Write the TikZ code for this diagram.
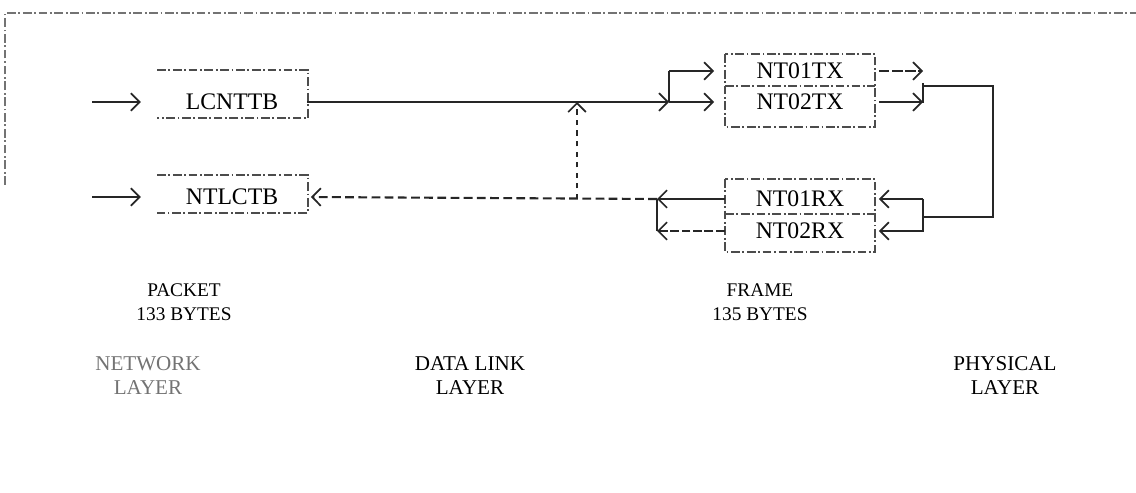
\documentclass[tikz,border=0pt]{standalone}
\usepackage{fontspec}
\setmainfont{Liberation Serif}
\usetikzlibrary{arrows.meta,calc}

\begin{document}
\begin{tikzpicture}[x=0.02cm, y=-0.02cm,
  wire/.style={line width=1.2pt, draw=black!85},
  feed/.style={wire, -{Straight Barb[length=5pt, width=10pt, line width=1pt]}},
  ret/.style={feed, dash pattern=on 5pt off 2.5pt},
  edge/.style={line width=0.6pt, draw=black!70, dash pattern=on 5pt off 1.5pt on 1pt off 1.5pt},
  buf/.style={minimum width=3cm, inner sep=0pt, font=\fontsize{13.5}{15}\selectfont},
  lbl/.style={align=center, inner sep=0pt, font=\fontsize{12}{13.66}\selectfont},
  size/.style={lbl, font=\fontsize{11}{13.66}\selectfont},
]
\useasboundingbox (0,0) rectangle (1136,493);

% faint outer frame (cut off at top right)
\draw[edge, draw=black!55] (5,185) -- (5,13) -- (1136,13);

% --- network layer buffers ---
\node[buf] (lcn) at (232,102) {LCNTTB};
\node[buf] (ntl) at (232,197) {NTLCTB};
\draw[edge] (157,70) -- (308,70) -- (308,118) -- (157,118);
\draw[edge] (157,175) -- (308,175) -- (308,213) -- (157,213);

% --- data link buffers ---
\node[buf] (tx1) at (800,71) {NT01TX};
\node[buf] (tx2) at (800,102) {NT02TX};
\node[buf] (rx1) at (800,199) {NT01RX};
\node[buf] (rx2) at (800,231) {NT02RX};
\draw[edge] (725,54) rectangle (875,127);
\draw[edge] (725,86) -- (875,86);
\draw[edge] (725,179) rectangle (875,252);
\draw[edge] (725,214) -- (875,214);

% junction points
\coordinate (txsplit) at (669,102);
\coordinate (rxsplit) at (657,199);
\coordinate (tap) at (577,199);
\coordinate (txbar) at (923,86);
\coordinate (rxbar) at (923,217);
\coordinate (in1) at (92,102);
\coordinate (in2) at (92,197);

% inputs from the left
\draw[feed, shorten >=9pt] (in1) -- (lcn.west);
\draw[feed, shorten >=9pt] (in2) -- (ntl.west);

% send path
\draw[feed] (lcn.east) -- (txsplit);
\draw[wire] (txsplit) -- (txsplit |- tx1.west);
\draw[feed, shorten >=6pt] (txsplit |- tx1.west) -- (tx1.west);
\draw[feed, shorten >=6pt] (txsplit) -- (tx2.west);
\draw[feed, dash pattern=on 6pt off 1.5pt, shorten <=2pt] (tx1.east) -- (tx1.east -| txbar);
\draw[feed, shorten <=2pt] (tx2.east) -- (tx2.east -| txbar);
\draw[wire] ($(txbar)+(0,-3)$) -- ($(txbar)+(0,17)$);

% physical loop back
\draw[wire, line width=0.9pt] (txbar) -- ++(70,0) |- (rxbar);
\draw[wire] (rxbar |- rx1.east) -- ($(rxbar |- rx2.east)+(0,1)$);

% receive path
\draw[feed, shorten >=2pt] (rxbar |- rx1.east) -- (rx1.east);
\draw[feed, shorten >=2pt] (rxbar |- rx2.east) -- (rx2.east);
\draw[feed] (rx1.west) -- (rxsplit);
\draw[feed, dash pattern=on 5pt off 1.5pt] (rx2.west) -- (rxsplit |- rx2.west);
\draw[wire] (rxsplit) -- (rxsplit |- rx2.west);
\draw[ret, shorten >=2pt] (rxsplit) -- (ntl.east);
\draw[ret, line width=0.7pt, dash pattern=on 3pt off 3pt] (tap) -- (tap |- lcn.east);

% --- unit sizes ---
\node[size] (packet) at (184,302) {PACKET\\133 BYTES};
\node[size] (frame) at (760,302) {FRAME\\135 BYTES};

% --- layer names ---
\node[lbl, text=black!55] (netlayer) at (148,376) {NETWORK\\LAYER};
\node[lbl] (dllayer) at (470,376) {DATA LINK\\LAYER};
\node[lbl] (phylayer) at (1005,376) {PHYSICAL\\LAYER};
\end{tikzpicture}
\end{document}
